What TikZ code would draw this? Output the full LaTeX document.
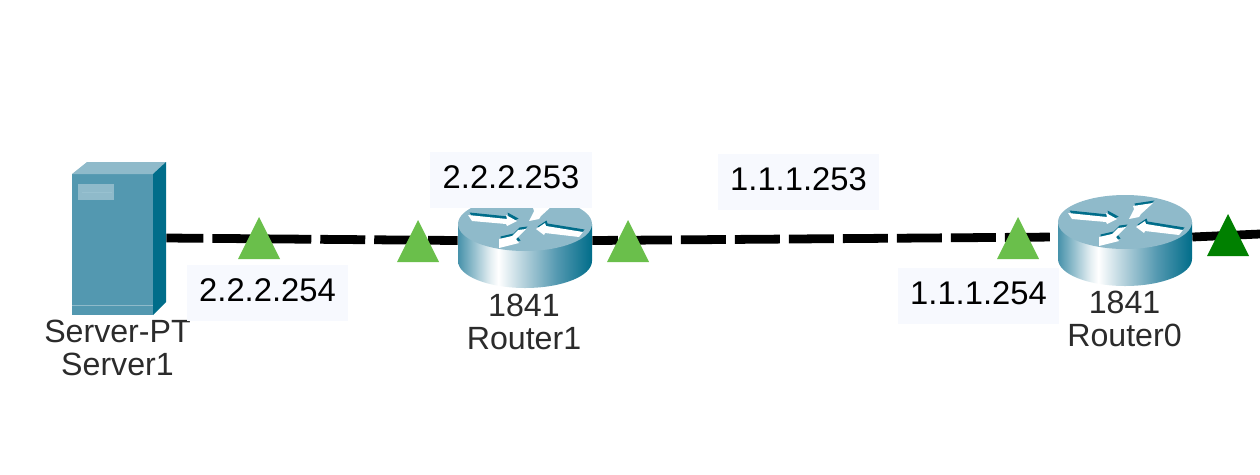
\documentclass[tikz,border=0pt]{standalone}
\usepackage{fontspec}
\setmainfont{Liberation Sans}
\definecolor{devicetop}{HTML}{8FBACA}
\definecolor{devicefront}{HTML}{5398B0}
\definecolor{deviceside}{HTML}{006D8A}
\definecolor{labelbg}{HTML}{F7F9FE}
\definecolor{linkup}{HTML}{6ABF4B}
\definecolor{linkgreen}{HTML}{008000}
\definecolor{devicetext}{HTML}{2B2B2B}
\pgfdeclarehorizontalshading{routerside}{100bp}{color(0bp)=(devicefront!85!deviceside); color(25bp)=(devicefront!85!deviceside); color(37bp)=(devicetop!25!white); color(40bp)=(white); color(50bp)=(devicetop!70!white); color(62bp)=(devicefront); color(75bp)=(deviceside); color(100bp)=(deviceside)}
\tikzset{
	ipbox/.style={fill=labelbg,minimum width=3.23cm,minimum height=1.12cm,inner sep=0pt,text=black,text height=13.2pt,text depth=3.4pt,font=\fontsize{18.65}{22}\selectfont},
	devicelabel/.style={align=center,inner sep=0pt,text=devicetext,font=\fontsize{18.3}{18.8}\selectfont},
	dashlink/.style={line width=5pt,dash pattern=on 25.6pt off 5.12pt},
	solidlink/.style={line width=5pt},
	hiddenbox/.style={inner sep=0pt,minimum width=2.68cm,minimum height=1cm},
}
% Triangle on a link: x, y of the apex, colour
\newcommand{\porttri}[3]{\fill[#3] (#1,#2) -- ++(21,42) -- ++(-42,0) -- cycle;}
% One white arrow on the router, with its dark edge
\newcommand{\routerarrow}[1]{
	\fill[deviceside,shift={(1.5,-2.5)}] #1 -- cycle;
	\fill[white] #1 -- cycle;
}
% Router: x, y of the centre of the top face
\newcommand{\routericon}[2]{
	\begin{scope}[shift={(#1,#2)}]
		\shade[shading=routerside] (-67,0) -- (-67,37) .. controls (-67,52) and (-37,64) .. (0,64) .. controls (37,64) and (67,52) .. (67,37) -- (67,0) -- cycle;
		\fill[devicetop] (0,0) ellipse [x radius=1.34cm,y radius=0.54cm];
		\routerarrow{(-57,-9) -- (-18,-5) -- (-19,-9) -- (-8,-3) -- (-18,2) -- (-19,0) -- (-53,-3)}
		\routerarrow{(28,-19) -- (16,-8) -- (14,-5) -- (4,-3) -- (9,-13) -- (8,-16)}
		\routerarrow{(11,5) -- (20,-1) -- (21,2) -- (58,8) -- (54,13) -- (20,9) -- (19,11)}
		\routerarrow{(-26,15) -- (-13,12) -- (-7,6) -- (1,5) -- (-9,15) -- (-6,19) -- (-26,24)}
	\end{scope}
}

\begin{document}
\begin{tikzpicture}[x=0.02cm,y=-0.02cm]
\useasboundingbox (0,0) rectangle (1260,474);

% Places of the devices
\node[inner sep=0pt,minimum width=1.88cm,minimum height=3cm] (server) at (119,238) {};
\node[hiddenbox] (router1) at (525,240.5) {};
\node[hiddenbox] (router0) at (1125,237) {};
\coordinate (rightend) at (1260,234);

% Links
\draw[dashlink,dash phase=4.55pt] (server.east) -- (router1.west);
\draw[dashlink,dash phase=11pt] (router1.east) -- (router0.west);
\draw[solidlink] (router0.east) -- (rightend);

% Server
\fill[devicefront] (72,174) rectangle (153,315);
\fill[devicetop] (72,174) -- (87,162) -- (166,162) -- (153,174) -- cycle;
\fill[deviceside] (153,174) -- (166,162) -- (166,302) -- (153,315) -- cycle;
\fill[devicetop] (78,184) rectangle (114,200);
\draw[devicefront!60!white,line width=0.4pt] (82,192) -- (112,192);
\draw[devicetop,line width=0.5pt] (72,305) -- (153,305);

% Routers
\routericon{525}{224}
\routericon{1125}{222}

% Device names
\node[devicelabel] (serverlabel) at (117.5,347.5) {Server-PT\\Server1};
\node[devicelabel] (router1label) at (524,322) {1841\\Router1};
\node[devicelabel] (router0label) at (1124.5,319) {1841\\Router0};

% Triangles
\porttri{259}{217}{linkup}
\porttri{418}{220}{linkup}
\porttri{628}{220}{linkup}
\porttri{1018}{217}{linkup}
\porttri{1228}{214}{linkgreen}

% Addresses
\node[ipbox] (ip254b) at (267.5,293) {2.2.2.254};
\node[ipbox] (ip253b) at (511,179.5) {2.2.2.253};
\node[ipbox] (ip253a) at (798.5,182) {1.1.1.253};
\node[ipbox] (ip254a) at (978.5,296) {1.1.1.254};

\end{tikzpicture}
\end{document}
